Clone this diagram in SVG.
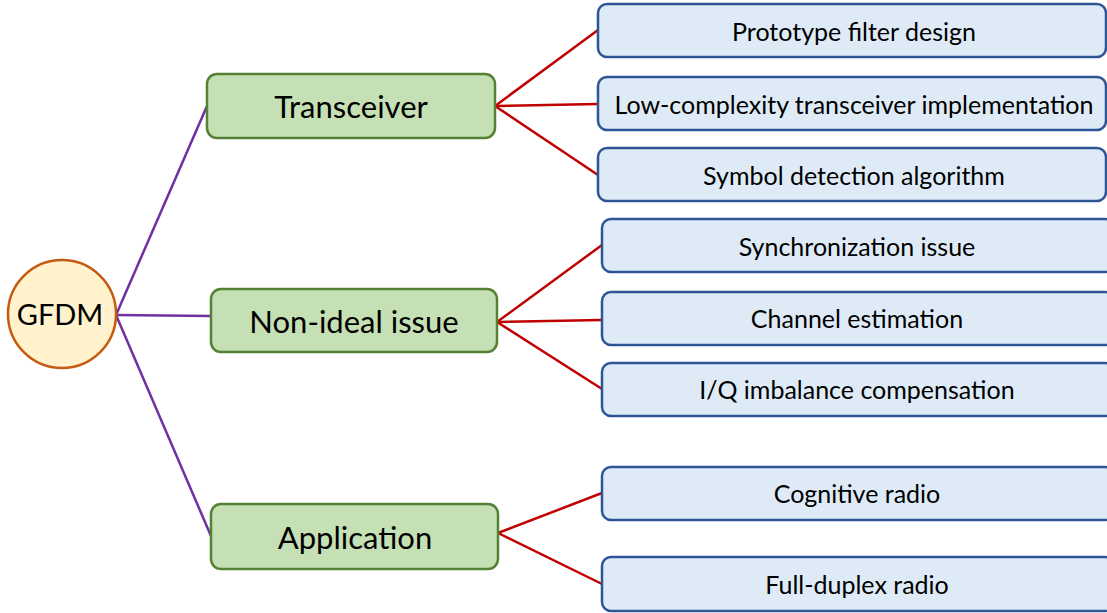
<svg xmlns="http://www.w3.org/2000/svg" width="1107" height="613" viewBox="0 0 1107 613">
<style>
text{font-family:Lato,"Open Sans","Liberation Sans",sans-serif;fill:#000;text-anchor:middle}
.main{font-size:31px}
.leaf{font-size:25px}
.g rect{fill:#C5E0B4;stroke:#548235;stroke-width:2.5}
.b rect{fill:#DEEBF7;stroke:#2F5597;stroke-width:2.5}
.p{stroke:#7030A0;stroke-width:2.5;fill:none}
.r{stroke:#C00000;stroke-width:2.5;fill:none}
</style>
<rect width="1107" height="613" fill="#fff"/>
<g id="connectors">
<line class="p" x1="116" y1="315" x2="207" y2="106"/>
<line class="p" x1="116" y1="315" x2="211" y2="316"/>
<line class="p" x1="116" y1="315" x2="211" y2="536"/>
<line class="r" x1="495" y1="106" x2="598" y2="30"/>
<line class="r" x1="495" y1="106" x2="598" y2="104"/>
<line class="r" x1="495" y1="106" x2="598" y2="175"/>
<line class="r" x1="497" y1="322" x2="602" y2="245"/>
<line class="r" x1="497" y1="322" x2="602" y2="320"/>
<line class="r" x1="497" y1="322" x2="602" y2="389"/>
<line class="r" x1="498" y1="533" x2="602" y2="493"/>
<line class="r" x1="498" y1="533" x2="602" y2="584"/>
</g>
<g id="gfdm">
<circle cx="62" cy="314" r="54" fill="#FFF2CC" stroke="#C55A11" stroke-width="2.5"/>
<text x="60" y="325" style="font-size:29px">GFDM</text>
</g>
<g id="transceiver" class="g">
<rect x="207" y="74" width="288" height="64" rx="10"/>
<text class="main" x="351" y="118">Transceiver</text>
</g>
<g id="nonideal" class="g">
<rect x="211" y="289" width="286" height="63" rx="10"/>
<text class="main" x="354" y="333">Non-ideal issue</text>
</g>
<g id="application" class="g">
<rect x="211" y="504" width="287" height="65" rx="10"/>
<text class="main" x="355" y="549">Application</text>
</g>
<g id="leaf1" class="b"><rect x="598" y="4" width="508" height="53" rx="9"/><text class="leaf" x="854" y="41">Prototype filter design</text></g>
<g id="leaf2" class="b"><rect x="598" y="77" width="508" height="53" rx="9"/><text class="leaf" x="854" y="114">Low-complexity transceiver implementation</text></g>
<g id="leaf3" class="b"><rect x="598" y="148" width="508" height="53" rx="9"/><text class="leaf" x="854" y="185">Symbol detection algorithm</text></g>
<g id="leaf4" class="b"><rect x="602" y="219" width="512" height="53" rx="9"/><text class="leaf" x="857" y="256">Synchronization issue</text></g>
<g id="leaf5" class="b"><rect x="602" y="292" width="512" height="53" rx="9"/><text class="leaf" x="857" y="328">Channel estimation</text></g>
<g id="leaf6" class="b"><rect x="602" y="363" width="512" height="53" rx="9"/><text class="leaf" x="857" y="399">I/Q imbalance compensation</text></g>
<g id="leaf7" class="b"><rect x="602" y="467" width="512" height="53" rx="9"/><text class="leaf" x="857" y="503">Cognitive radio</text></g>
<g id="leaf8" class="b"><rect x="602" y="557" width="512" height="54" rx="9"/><text class="leaf" x="857" y="594">Full-duplex radio</text></g>
</svg>
